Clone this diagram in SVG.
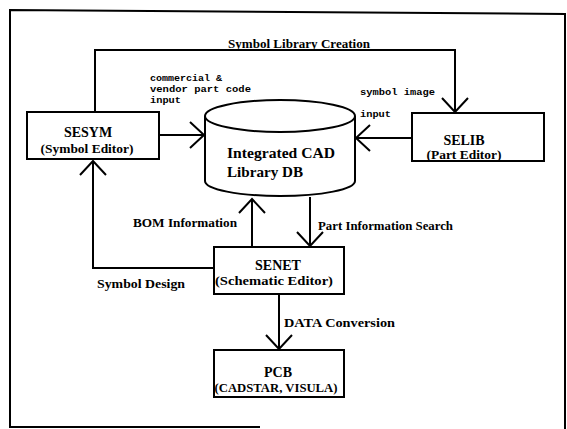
<svg xmlns="http://www.w3.org/2000/svg" width="567" height="429" viewBox="0 0 567 429">
<defs>
<style>
.ln{fill:none;stroke:#000;stroke-width:2}
.box{fill:#fff;stroke:#000;stroke-width:2}
.t{font-family:"Liberation Serif","Times New Roman",serif;font-weight:bold;fill:#000}
.title{font-size:14px;text-anchor:middle}
.sub{font-size:12.5px;text-anchor:middle}
.lbl{font-size:12.5px}
.mono{font-family:"Liberation Mono","Courier New",monospace;font-weight:bold;font-size:9.5px;fill:#000}
</style>
<marker id="arr" markerUnits="userSpaceOnUse" markerWidth="34" markerHeight="34" refX="17" refY="17" orient="auto" viewBox="0 0 34 34">
<path d="M3,4 L17,17 L3,30" fill="none" stroke="#000" stroke-width="2"/>
</marker>
</defs>
<rect width="567" height="429" fill="#fff"/>
<path class="ln" d="M260,427 L10,427 L10,10 L565,14 L565,429"/>
<g id="connectors">
<path class="ln" d="M95,112 L95,50 L455,50 L455,112" marker-end="url(#arr)"/>
<path class="ln" d="M159,135 L204,135" marker-end="url(#arr)"/>
<path class="ln" d="M412,138 L356,138" marker-end="url(#arr)"/>
<path class="ln" d="M252,247 L252,199" marker-end="url(#arr)"/>
<path class="ln" d="M310,197 L310,246" marker-end="url(#arr)"/>
<path class="ln" d="M214,268 L93,268 L93,161" marker-end="url(#arr)"/>
<path class="ln" d="M279,295 L279,349" marker-end="url(#arr)"/>
<text class="t lbl" x="228" y="48" textLength="142" lengthAdjust="spacingAndGlyphs">Symbol Library Creation</text>
<text class="mono" x="150" y="81" textLength="72" lengthAdjust="spacingAndGlyphs">commercial &amp;</text>
<text class="mono" x="150" y="92" textLength="101" lengthAdjust="spacingAndGlyphs">vendor part code</text>
<text class="mono" x="150" y="103" textLength="31" lengthAdjust="spacingAndGlyphs">input</text>
<text class="mono" x="360" y="95" textLength="75" lengthAdjust="spacingAndGlyphs">symbol image</text>
<text class="mono" x="360" y="117" textLength="31" lengthAdjust="spacingAndGlyphs">input</text>
<text class="t lbl" x="133" y="227" textLength="104" lengthAdjust="spacingAndGlyphs">BOM Information</text>
<text class="t lbl" x="318" y="230" textLength="135" lengthAdjust="spacingAndGlyphs">Part Information Search</text>
<text class="t lbl" x="97" y="288" textLength="88" lengthAdjust="spacingAndGlyphs">Symbol Design</text>
<text class="t lbl" x="284" y="327" textLength="111" lengthAdjust="spacingAndGlyphs">DATA Conversion</text>
</g>
<g id="db">
<path class="box" d="M205,116 L205,181 A75,15 0 0 0 355,181 L355,116"/>
<ellipse class="box" cx="280" cy="116" rx="75" ry="16"/>
<text class="t" x="281" y="158" font-size="15" text-anchor="middle" textLength="108" lengthAdjust="spacingAndGlyphs">Integrated CAD</text>
<text class="t" x="227" y="177" font-size="15" textLength="76" lengthAdjust="spacingAndGlyphs">Library DB</text>
</g>
<g id="sesym">
<rect class="box" x="27" y="112" width="132" height="47"/>
<text class="t title" x="88" y="137">SESYM</text>
<text class="t sub" x="87" y="153" textLength="93" lengthAdjust="spacingAndGlyphs">(Symbol Editor)</text>
</g>
<g id="selib">
<rect class="box" x="412" y="113" width="132" height="48"/>
<text class="t title" x="464" y="145">SELIB</text>
<text class="t sub" x="464" y="159" textLength="75" lengthAdjust="spacingAndGlyphs">(Part Editor)</text>
</g>
<g id="senet">
<rect class="box" x="214" y="247" width="130" height="47"/>
<text class="t title" x="278" y="270">SENET</text>
<text class="t sub" x="274" y="285" textLength="118" lengthAdjust="spacingAndGlyphs">(Schematic Editor)</text>
</g>
<g id="pcb">
<rect class="box" x="214" y="350" width="130" height="47"/>
<text class="t title" x="278" y="377">PCB</text>
<text class="t sub" x="276" y="392" textLength="123" lengthAdjust="spacingAndGlyphs">(CADSTAR, VISULA)</text>
</g>
</svg>
